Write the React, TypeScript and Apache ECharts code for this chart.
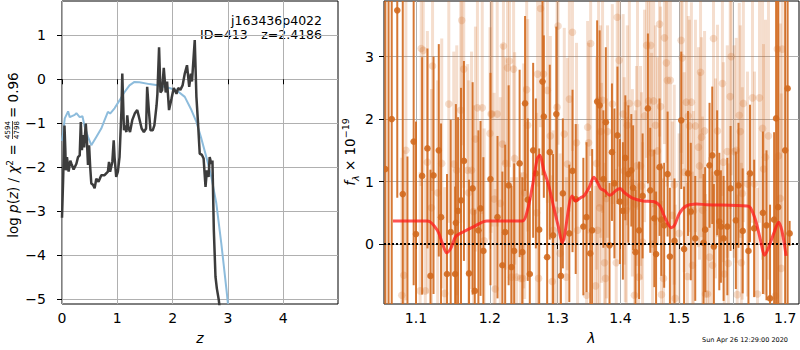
import React, { useEffect, useRef } from 'react';
import * as echarts from 'echarts';

// ---------- left panel: log p(z) ----------
const zTicks = [0, 1, 2, 3, 4];
const logpTicks = [-5, -4, -3, -2, -1, 0, 1];

const zBlack = [0.0, 0.02, 0.045, 0.06, 0.07, 0.09, 0.12, 0.15, 0.17, 0.21, 0.26, 0.29, 0.32, 0.34, 0.36, 0.38, 0.4, 0.43, 0.45, 0.47, 0.49, 0.51, 0.53, 0.56, 0.59, 0.62, 0.66, 0.71, 0.77, 0.83, 0.85, 0.87, 0.91, 0.935, 0.95, 0.98, 1.01, 1.04, 1.075, 1.09, 1.12, 1.13, 1.165, 1.18, 1.2, 1.23, 1.27, 1.315, 1.36, 1.39, 1.44, 1.48, 1.52, 1.54, 1.57, 1.6, 1.64, 1.67, 1.71, 1.725, 1.755, 1.78, 1.81, 1.84, 1.875, 1.9, 1.935, 1.98, 2.02, 2.07, 2.1, 2.14, 2.18, 2.22, 2.26, 2.3, 2.33, 2.35, 2.4, 2.43, 2.46, 2.49, 2.53, 2.56, 2.595, 2.62, 2.65, 2.67, 2.7, 2.72, 2.745, 2.775, 2.8, 2.835, 2.86];
const logpBlack = [-3.15, -2.3, -1.05, -1.6, -2.07, -1.77, -2.1, -1.85, -1.92, -2.05, -1.92, -1.77, -1.73, -0.97, -1.61, -1.27, -1.55, -1.01, -1.39, -1.95, -1.5, -2.0, -2.37, -2.4, -2.48, -2.26, -2.33, -2.18, -2.18, -2.1, -1.88, -2.1, -1.88, -1.39, -1.77, -2.22, -2.1, -1.77, -0.7, 0.13, -1.16, -1.05, -1.2, -0.82, -1.1, -1.2, -0.93, -0.78, -0.7, -0.85, -1.12, -1.2, -1.12, -0.17, -0.7, -1.16, -1.16, -1.05, -0.59, -0.33, 0.73, -0.3, -0.25, 0.26, -0.3, -0.05, -0.7, -0.44, -0.2, -0.33, -0.2, -0.24, -0.14, 0.13, 0.32, -0.17, 0.13, -0.05, 0.89, -0.4, -1.01, -1.69, -1.72, -1.8, -2.45, -2.07, -2.22, -1.77, -1.92, -1.85, -3.43, -4.49, -4.76, -5.02, -5.3];

const zBlue = [0.0, 0.02, 0.05, 0.11, 0.14, 0.23, 0.26, 0.32, 0.37, 0.41, 0.47, 0.53, 0.62, 0.71, 0.77, 0.83, 0.87, 0.95, 1.04, 1.13, 1.22, 1.31, 1.4, 1.58, 1.76, 1.94, 2.07, 2.22, 2.34, 2.43, 2.52, 2.61, 2.7, 2.79, 2.88, 2.975, 3.0];
const logpBlue = [-1.4, -1.23, -0.89, -0.73, -0.86, -0.81, -0.77, -0.86, -0.84, -1.08, -1.31, -1.5, -1.31, -1.12, -0.93, -0.74, -0.78, -0.66, -0.48, -0.29, -0.14, -0.06, -0.07, -0.11, -0.14, -0.2, -0.25, -0.4, -0.7, -0.97, -1.35, -1.77, -2.22, -2.82, -3.73, -4.8, -5.1];

// ---------- right panel: spectrum ----------
const lamMin = 1.0593;
const lamMax = 1.728;
const lamTicks = [1.1, 1.2, 1.3, 1.4, 1.5, 1.6, 1.7];
const fluxTicks = [0, 1, 2, 3];

const darkLam = [1.061, 1.065, 1.069, 1.076, 1.083, 1.089, 1.097, 1.1, 1.108, 1.115, 1.119, 1.123, 1.13, 1.133, 1.141, 1.146, 1.152, 1.153, 1.156, 1.16, 1.164, 1.171, 1.176, 1.179, 1.184, 1.187, 1.191, 1.201, 1.211, 1.218, 1.222, 1.227, 1.231, 1.235, 1.243, 1.247, 1.251, 1.255, 1.258, 1.263, 1.267, 1.272, 1.277, 1.279, 1.284, 1.288, 1.293, 1.298, 1.305, 1.308, 1.318, 1.323, 1.328, 1.34, 1.345, 1.351, 1.354, 1.362, 1.366, 1.372, 1.376, 1.382, 1.386, 1.39, 1.395, 1.399, 1.404, 1.408, 1.413, 1.418, 1.421, 1.425, 1.431, 1.437, 1.446, 1.45, 1.457, 1.46, 1.466, 1.469, 1.474, 1.48, 1.484, 1.492, 1.504, 1.509, 1.516, 1.521, 1.529, 1.544, 1.547, 1.555, 1.56, 1.563, 1.569, 1.573, 1.576, 1.581, 1.588, 1.594, 1.604, 1.609, 1.617, 1.628, 1.631, 1.639, 1.656, 1.663, 1.67, 1.678, 1.682, 1.686, 1.7, 1.705, 1.709];
const darkFlux = [1.2, -1.5, 2.0, 3.74, 0.8, -1.2, 1.64, 0.16, 1.09, 1.53, -0.51, 1.1, 1.5, 0.43, -0.48, 0.19, -0.48, 0.34, 0.53, 0.7, 1.33, -0.47, 0.89, -0.75, 0.22, 0.57, -0.11, 1.04, 0.43, -0.34, 0.19, 0.94, -0.37, -0.11, 1.29, -0.13, 2.25, 0.71, -0.48, 1.5, 1.13, 0.23, 2.6, 2.04, -0.21, 1.47, 0.14, 2.08, -0.51, 0.81, 0.17, 1.17, 0.72, 0.28, 0.43, -0.15, 0.22, 2.28, 2.22, 1.04, 1.95, -0.02, 1.47, 0.97, 1.74, 0.68, 0.53, 1.38, 1.12, 1.18, 0.9, -0.13, 0.22, 0.77, 2.17, 0.86, 0.41, -0.16, 1.23, 0.39, 0.3, 1.12, -0.2, 0.05, 1.98, -0.08, 1.13, 0.52, 0.09, 0.02, 0.23, 1.26, 1.42, -0.04, 1.14, 0.36, 0.28, 0.09, 0.28, 0.89, 0.38, 0.94, 0.21, -0.11, 1.13, 0.25, 0.5, 0.3, -0.87, 0.39, 2.01, 0.59, 1.5, 2.49, 0.17];
const darkErr = [6.0, 5.5, 4.5, 3.0, 3.2, 2.6, 2.3, 1.8, 1.9, 1.6, 1.7, 1.9, 1.7, 1.5, 1.6, 1.8, 1.4, 1.9, 1.5, 1.8, 1.6, 1.5, 1.7, 1.3, 1.6, 1.4, 1.5, 1.7, 1.3, 1.5, 1.4, 1.6, 1.3, 1.4, 1.5, 1.2, 1.4, 1.3, 1.2, 1.4, 1.2, 1.3, 1.5, 1.3, 1.2, 1.4, 1.3, 1.4, 1.1, 1.2, 1.1, 1.3, 1.2, 1.1, 1.2, 1.0, 1.3, 1.3, 1.2, 1.1, 1.2, 1.0, 1.1, 1.2, 1.1, 1.0, 1.1, 1.0, 1.1, 0.9, 1.0, 1.0, 1.1, 1.0, 1.2, 1.0, 1.1, 1.0, 1.1, 0.9, 1.0, 1.0, 1.1, 1.0, 1.1, 1.0, 1.0, 1.1, 1.0, 1.1, 1.0, 1.0, 1.1, 1.0, 1.0, 1.1, 0.9, 1.0, 1.1, 1.0, 1.1, 1.0, 1.0, 1.2, 1.1, 1.1, 1.3, 1.2, 1.5, 1.4, 4.0, 4.0, 5.5, 5.0, 0.2];

const lightLam = [1.0818, 1.0844, 1.087, 1.1054, 1.1068, 1.1095, 1.1122, 1.1149, 1.1203, 1.1217, 1.1285, 1.1339, 1.1379, 1.1434, 1.1501, 1.1542, 1.1596, 1.161, 1.1637, 1.1691, 1.1705, 1.1745, 1.1772, 1.1799, 1.1827, 1.1894, 1.1921, 1.2003, 1.2018, 1.2032, 1.2062, 1.2077, 1.2106, 1.215, 1.218, 1.2195, 1.2224, 1.2254, 1.2283, 1.2313, 1.2342, 1.2357, 1.2386, 1.2445, 1.2475, 1.249, 1.2504, 1.2534, 1.2549, 1.2682, 1.2696, 1.2711, 1.2741, 1.2785, 1.2844, 1.2888, 1.2918, 1.2932, 1.2976, 1.2991, 1.3006, 1.3038, 1.3102, 1.3134, 1.315, 1.3181, 1.3229, 1.3293, 1.3309, 1.3452, 1.3468, 1.3484, 1.3516, 1.3595, 1.3611, 1.3627, 1.3643, 1.3659, 1.3675, 1.3691, 1.3707, 1.3739, 1.3755, 1.3771, 1.3787, 1.3866, 1.393, 1.3946, 1.3978, 1.4044, 1.4062, 1.4079, 1.4096, 1.4113, 1.4147, 1.4198, 1.4232, 1.425, 1.4267, 1.4284, 1.4301, 1.4335, 1.4352, 1.4369, 1.4403, 1.4438, 1.4472, 1.4506, 1.4523, 1.454, 1.4557, 1.4591, 1.4625, 1.466, 1.4677, 1.4694, 1.4728, 1.4745, 1.4779, 1.4796, 1.4848, 1.4882, 1.4916, 1.4933, 1.5002, 1.5038, 1.5057, 1.5093, 1.513, 1.5148, 1.5166, 1.5185, 1.5221, 1.5239, 1.5258, 1.5294, 1.5349, 1.5367, 1.5386, 1.5404, 1.5422, 1.5459, 1.5477, 1.5514, 1.555, 1.5605, 1.5623, 1.566, 1.5696, 1.5788, 1.5806, 1.5824, 1.5879, 1.5897, 1.5934, 1.5952, 1.6008, 1.6047, 1.6066, 1.6105, 1.6125, 1.6144, 1.6163, 1.6183, 1.6261, 1.6358, 1.6397, 1.6455, 1.6494, 1.6553, 1.6572, 1.6611, 1.6669, 1.6805, 1.6844, 1.6864, 1.6903, 1.6922, 1.6942];
const lightFlux = [-0.82, -0.5, 1.5, -0.75, 3.13, 3.1, -0.75, 1.31, 0.58, 2.85, 0.82, 1.29, -0.79, 2.24, 1.28, 1.18, 2.14, 3.58, 2.8, 1.18, 0.82, 1.18, 0.52, 1.68, 2.18, 2.18, 0.05, 1.77, 2.08, 2.08, 0.72, -0.72, 2.08, 0.65, 1.6, 3.17, 1.29, 2.82, 2.93, -0.53, 2.8, 1.37, -0.53, -0.55, -0.55, 1.09, 0.82, 2.47, 1.9, 0.5, 2.72, -0.55, 3.77, 2.72, 2.46, 1.73, -0.6, 0.22, 0.54, 2.19, 3.49, -0.15, 1.76, -0.53, 1.28, 2.32, 3.39, 1.62, 0.22, -0.82, 1.87, 1.62, 3.21, -0.67, 1.29, 0.22, 2.3, 0.58, 1.8, 0.98, 2.3, -0.3, -0.55, 0.73, 1.8, 2.24, -0.3, 3.63, 2.94, 2.08, 1.17, 0.67, 0.54, 1.9, 2.25, 0.98, -0.82, 0.64, 1.25, 2.25, -0.53, 1.25, 0.93, 0.03, 2.05, 3.18, 2.29, 3.18, 1.46, 0.0, 2.29, 1.9, 1.49, 3.52, 2.2, -0.81, -0.55, 3.3, 2.9, 2.62, 2.62, 0.46, 0.95, -0.87, 0.17, 3.26, 2.98, 1.15, 2.27, -0.52, 2.05, 1.89, 2.27, -0.34, 0.53, 1.89, 1.55, 1.25, 2.75, 1.71, 0.54, 1.81, -0.8, -0.8, -0.21, -0.34, 3.29, 1.05, 1.81, 2.57, 1.31, -0.48, 1.48, -0.31, 2.36, 3.0, 1.48, 1.5, -0.81, 2.06, 1.8, -0.3, 0.81, 2.25, 0.96, 2.34, 0.96, -0.8, 2.34, 1.85, 1.2, 1.39, 1.73, -0.83, 3.12, 1.41, 0.73, -0.39, 3.12];
const lightErr = [2.2, 2.0, 2.4, 1.9, 2.2, 2.0, 1.8, 2.1, 1.9, 2.0, 1.8, 2.0, 1.7, 1.9, 1.8, 2.0, 1.8, 2.0, 1.9, 1.7, 1.8, 1.9, 1.7, 1.8, 1.9, 1.7, 1.8, 1.7, 1.9, 1.8, 1.7, 1.6, 1.8, 1.7, 1.6, 1.9, 1.7, 1.8, 1.7, 1.6, 1.8, 1.7, 1.6, 1.7, 1.6, 1.8, 1.7, 1.8, 1.7, 1.6, 1.8, 1.7, 1.9, 1.7, 1.8, 1.6, 1.7, 1.6, 1.7, 1.8, 1.9, 1.6, 1.7, 1.6, 1.7, 1.8, 1.9, 1.6, 1.7, 1.6, 1.7, 1.6, 1.8, 1.6, 1.7, 1.6, 1.7, 1.6, 1.7, 1.6, 1.8, 1.6, 1.5, 1.6, 1.7, 1.6, 1.5, 1.9, 1.7, 1.6, 1.5, 1.6, 1.5, 1.6, 1.7, 1.5, 1.6, 1.5, 1.6, 1.7, 1.5, 1.6, 1.5, 1.6, 1.7, 1.8, 1.6, 1.7, 1.6, 1.5, 1.7, 1.6, 1.5, 1.8, 1.6, 1.5, 1.6, 1.7, 1.6, 1.7, 1.6, 1.5, 1.6, 1.5, 1.6, 1.8, 1.7, 1.6, 1.7, 1.5, 1.6, 1.7, 1.6, 1.5, 1.6, 1.7, 1.6, 1.5, 1.7, 1.6, 1.5, 1.6, 1.6, 1.5, 1.6, 1.5, 1.8, 1.6, 1.7, 1.8, 1.6, 1.5, 1.7, 1.6, 1.8, 1.9, 1.7, 1.8, 1.6, 1.8, 1.7, 1.6, 1.7, 1.9, 1.8, 2.0, 1.8, 1.7, 2.0, 2.1, 2.0, 2.2, 2.3, 2.2, 2.5, 2.6, 2.8, 2.8, 3.0];

const modelLam = [1.0705, 1.1153, 1.128, 1.1348, 1.1407, 1.1461, 1.1528, 1.1641, 1.1776, 1.1958, 1.2471, 1.2545, 1.2618, 1.2692, 1.273, 1.2789, 1.2863, 1.2937, 1.3011, 1.307, 1.3224, 1.3277, 1.3357, 1.3409, 1.3489, 1.3568, 1.3623, 1.3675, 1.3744, 1.3823, 1.393, 1.3994, 1.4067, 1.421, 1.4381, 1.4552, 1.4665, 1.475, 1.4865, 1.4921, 1.5007, 1.513, 1.5313, 1.5496, 1.6255, 1.6319, 1.6417, 1.6514, 1.6592, 1.6675, 1.6773, 1.687, 1.6936, 1.702];
const modelFlux = [0.37, 0.37, 0.22, 0.01, -0.14, -0.07, 0.12, 0.2, 0.28, 0.37, 0.37, 0.54, 0.92, 1.37, 1.42, 1.18, 0.94, 0.6, 0.28, 0.02, 0.77, 0.69, 0.74, 0.77, 0.9, 1.07, 0.99, 0.89, 0.85, 0.78, 0.86, 0.89, 0.82, 0.73, 0.69, 0.68, 0.61, 0.43, 0.26, 0.3, 0.49, 0.61, 0.64, 0.63, 0.61, 0.58, 0.38, 0.06, -0.18, -0.05, 0.17, 0.35, 0.21, -0.19];

const FONT = 'DejaVu Sans';
const fmtMinus = (v: number) => String(v).replace('-', '\u2212');

const errRender = (color: string, w: number, r: number) => (params: any, api: any) => {
  const x = api.value(0);
  const y = api.value(1);
  const e = api.value(2);
  const c = api.coord([x, y]);
  const t = api.coord([x, y + e]);
  const b = api.coord([x, y - e]);
  return {
    type: 'group',
    children: [
      { type: 'line', shape: { x1: c[0], y1: t[1], x2: c[0], y2: b[1] }, style: { stroke: color, lineWidth: w } },
      { type: 'circle', shape: { cx: c[0], cy: c[1], r }, style: { fill: color } },
    ],
  };
};

const tickStyle = { show: true, length: 5, lineStyle: { color: '#000', width: 1 } };
const labelStyle = { fontSize: 14, color: '#000', fontFamily: FONT };
const splitStyle = { show: true, lineStyle: { color: '#b0b0b0', width: 1 } };

export default function App() {
  const ref = useRef<HTMLDivElement>(null);
  useEffect(() => {
    document.body.style.margin = '0';
    const chart = echarts.init(ref.current!, null, { renderer: 'svg' });
    const option: any = {
      animation: false,
      grid: [
        { left: 62, top: 1, width: 276, height: 303, show: true, borderColor: '#000', borderWidth: 1, backgroundColor: 'transparent' },
        { left: 384, top: 1, width: 415, height: 303, show: true, borderColor: '#000', borderWidth: 1, backgroundColor: 'transparent' },
      ],
      xAxis: [
        {
          gridIndex: 0, type: 'value', min: 0, max: 4.99,
          axisLine: { show: false },
          axisTick: { ...tickStyle, customValues: zTicks },
          axisLabel: { ...labelStyle, margin: 7, customValues: zTicks, formatter: (v: number) => fmtMinus(v) },
          splitLine: splitStyle,
          name: 'z', nameLocation: 'middle', nameGap: 27,
          nameTextStyle: { fontSize: 14, fontStyle: 'italic', fontFamily: FONT, color: '#000' },
        },
        {
          gridIndex: 1, type: 'value', min: Math.log(lamMin), max: Math.log(lamMax),
          axisLine: { show: false },
          axisTick: { ...tickStyle, customValues: lamTicks.map((v) => Math.log(v)) },
          axisLabel: { ...labelStyle, margin: 7, customValues: lamTicks.map((v) => Math.log(v)), formatter: (v: number) => Math.exp(v).toFixed(1) },
          splitLine: splitStyle,
          name: 'λ', nameLocation: 'middle', nameGap: 27,
          nameTextStyle: { fontSize: 14, fontStyle: 'italic', fontFamily: FONT, color: '#000' },
        },
      ],
      yAxis: [
        {
          gridIndex: 0, type: 'value', min: -5.11, max: 1.78,
          axisLine: { show: false },
          axisTick: { ...tickStyle, customValues: logpTicks },
          axisLabel: { ...labelStyle, margin: 16, customValues: logpTicks, formatter: (v: number) => fmtMinus(v) },
          splitLine: splitStyle,
        },
        {
          gridIndex: 1, type: 'value', min: -0.96, max: 3.89,
          axisLine: { show: false },
          axisTick: { ...tickStyle, customValues: fluxTicks },
          axisLabel: { ...labelStyle, margin: 10, customValues: fluxTicks, formatter: (v: number) => fmtMinus(v) },
          splitLine: splitStyle,
        },
      ],
      series: [
        {
          type: 'line', xAxisIndex: 0, yAxisIndex: 0, showSymbol: false, z: 2,
          data: zBlue.map((z, i) => [z, logpBlue[i]]),
          lineStyle: { color: '#8dbcdc', width: 2 },
        },
        {
          type: 'line', xAxisIndex: 0, yAxisIndex: 0, showSymbol: false, z: 3,
          data: zBlack.map((z, i) => [z, logpBlack[i]]),
          lineStyle: { color: '#3c3c3c', width: 2.5 },
        },
        {
          type: 'custom', xAxisIndex: 1, yAxisIndex: 1, clip: true, z: 2,
          renderItem: errRender('rgba(210,105,30,0.22)', 3, 3.8),
          encode: { x: 0, y: 1 },
          data: lightLam.map((l, i) => [Math.log(l), lightFlux[i], lightErr[i]]),
        },
        {
          type: 'custom', xAxisIndex: 1, yAxisIndex: 1, clip: true, z: 3,
          renderItem: errRender('rgba(210,105,30,0.9)', 2, 3.3),
          encode: { x: 0, y: 1 },
          data: darkLam.map((l, i) => [Math.log(l), darkFlux[i], darkErr[i]]),
        },
        {
          type: 'line', xAxisIndex: 1, yAxisIndex: 1, showSymbol: false, z: 5, smooth: 0.3,
          data: modelLam.map((l, i) => [Math.log(l), modelFlux[i]]),
          lineStyle: { color: 'rgba(255,25,25,0.75)', width: 3 },
          markLine: {
            silent: true, symbol: 'none', label: { show: false },
            lineStyle: { color: '#000', type: 'dotted', width: 2 },
            data: [{ yAxis: 0 }],
          },
        },
      ],
      graphic: [
        {
          type: 'text', x: 322, y: 20,
          style: { text: 'j163436p4022', fontSize: 12.5, fontFamily: FONT, fill: '#000', align: 'right', verticalAlign: 'middle' },
        },
        {
          type: 'text', x: 200, y: 34,
          style: { text: 'ID=413', fontSize: 12.5, fontFamily: FONT, fill: '#000', align: 'left', verticalAlign: 'middle' },
        },
        {
          type: 'text', x: 322, y: 34,
          style: { text: 'z=2.4186', fontSize: 12.5, fontFamily: FONT, fill: '#000', align: 'right', verticalAlign: 'middle' },
        },
        {
          type: 'text', x: 788, y: 340,
          style: { text: 'Sun Apr 26 12:29:00 2020', fontSize: 6.5, fontFamily: FONT, fill: '#000', align: 'right', verticalAlign: 'middle' },
        },
        {
          type: 'group', x: 12.5, y: 238, rotation: Math.PI / 2,
          children: [
            {
              type: 'text', x: 98, y: 0,
              style: {
                text: '{n|log }{i|p}{n|(}{i|z}{n|) / }{i|χ}{s|2}{n| = }',
                align: 'right', verticalAlign: 'middle',
                rich: {
                  n: { fontSize: 13.5, fontFamily: FONT, fill: '#000' },
                  i: { fontSize: 13.5, fontFamily: FONT, fontStyle: 'italic', fill: '#000' },
                  s: { fontSize: 9, fontFamily: FONT, fill: '#000', verticalAlign: 'top' },
                },
              },
            },
            { type: 'text', x: 108, y: -4.5, style: { text: '4594', fontSize: 7, fontFamily: FONT, fill: '#000', align: 'center', verticalAlign: 'middle' } },
            { type: 'line', shape: { x1: 99, y1: 0, x2: 117, y2: 0 }, style: { stroke: '#000', lineWidth: 0.7 } },
            { type: 'text', x: 108, y: 4.5, style: { text: '4798', fontSize: 7, fontFamily: FONT, fill: '#000', align: 'center', verticalAlign: 'middle' } },
            { type: 'text', x: 120, y: 0, style: { text: '= 0.96', fontSize: 13.5, fontFamily: FONT, fill: '#000', align: 'left', verticalAlign: 'middle' } },
          ],
        },
        {
          type: 'group', x: 350, y: 152, rotation: Math.PI / 2,
          children: [
            {
              type: 'text', x: 0, y: 0,
              style: {
                text: '{i|f}{b|λ}{n| × 10}{p|−19}',
                align: 'center', verticalAlign: 'middle',
                rich: {
                  i: { fontSize: 13.5, fontFamily: FONT, fontStyle: 'italic', fill: '#000', lineHeight: 20 },
                  b: { fontSize: 9.5, fontFamily: FONT, fontStyle: 'italic', fill: '#000', verticalAlign: 'bottom' },
                  n: { fontSize: 13.5, fontFamily: FONT, fill: '#000' },
                  p: { fontSize: 9.5, fontFamily: FONT, fill: '#000', verticalAlign: 'top' },
                },
              },
            },
          ],
        },
      ],
    };
    chart.setOption(option);
    return () => chart.dispose();
  }, []);
  return <div ref={ref} style={{ width: 800, height: 350 }} />;
}
